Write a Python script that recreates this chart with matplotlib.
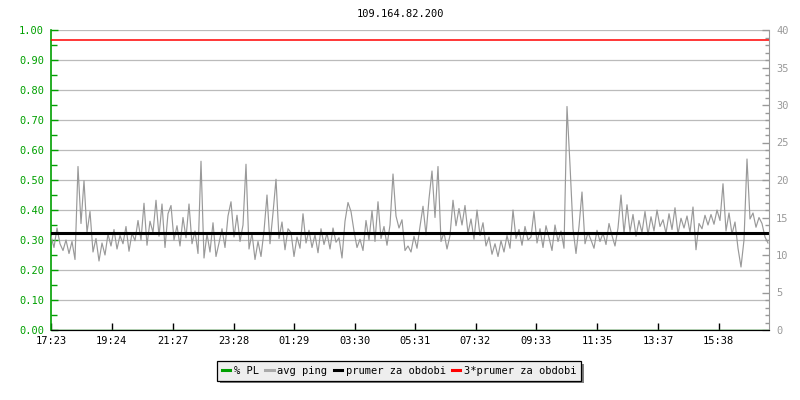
import numpy as np
import matplotlib
matplotlib.use("Agg")
import matplotlib.pyplot as plt
from matplotlib.lines import Line2D

plt.rcParams["font.family"] = ["DejaVu Sans Mono"]
plt.rcParams["font.size"] = 7.5

title = "109.164.82.200"
start_time = "17:23"
sample_minutes = 6

# avg ping [ms], one value every 6 minutes
avg_ping = [
    12.5, 11.0, 13.6, 11.5, 10.6, 12.0, 10.2, 11.8, 9.4, 21.8, 14.2, 19.9, 13.0, 15.8, 10.4, 12.2, 9.2, 11.6, 10.0, 12.8,
    11.2, 13.4, 10.8, 12.6, 11.5, 13.8, 10.5, 12.9, 11.9, 14.6, 12.0, 16.9, 11.3, 14.5, 13.0, 17.3, 12.5, 16.8, 11.0, 15.5,
    16.6, 12.0, 13.9, 11.2, 15.0, 12.3, 16.8, 11.5, 13.2, 10.2, 22.5, 9.6, 12.8, 10.4, 14.3, 9.8, 11.6, 13.5, 11.0, 15.2,
    17.1, 12.4, 15.3, 11.8, 14.0, 22.1, 10.8, 12.9, 9.4, 11.8, 9.8, 13.2, 18.0, 11.5, 15.6, 20.1, 12.2, 14.4, 10.7, 13.5,
    13.0, 9.8, 12.4, 10.9, 15.5, 11.6, 13.3, 11.0, 12.7, 10.3, 13.5, 11.4, 12.9, 10.8, 13.6, 11.7, 12.3, 9.6, 14.5, 17.0,
    15.8, 13.2, 11.0, 12.1, 10.6, 14.6, 12.0, 15.9, 11.8, 17.1, 12.2, 13.8, 11.3, 14.0, 20.8, 15.2, 13.6, 14.7, 10.6, 11.2,
    10.4, 12.5, 10.9, 13.8, 16.5, 12.7, 17.5, 21.2, 15.0, 21.8, 11.8, 13.0, 10.8, 12.6, 17.3, 13.9, 16.2, 14.0, 16.6, 12.9,
    14.8, 12.1, 16.0, 12.6, 14.3, 11.2, 12.4, 10.1, 11.5, 9.8, 11.9, 10.4, 12.6, 10.9, 16.0, 12.2, 13.4, 11.3, 13.8, 12.0,
    12.4, 15.8, 11.6, 13.5, 11.0, 13.9, 12.3, 10.6, 14.0, 11.8, 13.2, 10.9, 29.8, 22.0, 13.5, 10.2, 13.8, 18.4, 11.5, 13.0,
    12.0, 10.9, 13.3, 11.8, 12.9, 11.4, 14.2, 12.6, 11.2, 13.6, 18.0, 12.9, 16.7, 13.1, 15.4, 12.5, 14.6, 13.0, 15.8, 12.7,
    15.1, 13.2, 16.0, 13.8, 14.7, 12.9, 15.5, 13.4, 16.3, 12.8, 14.9, 13.6, 15.2, 13.0, 16.4, 10.7, 14.2, 13.5, 15.3, 14.0,
    15.4, 14.1, 16.0, 14.6, 19.5, 13.2, 15.6, 12.8, 14.4, 10.9, 8.4, 12.0, 22.8, 14.8, 15.6, 13.7, 15.0, 14.2, 12.4, 11.6,
]
packet_loss = [0.0] * len(avg_ping)
avg_mean = 12.87  # prumer za obdobi [ms]

tick_labels = ["17:23", "19:24", "21:27", "23:28", "01:29", "03:30",
               "05:31", "07:32", "09:33", "11:35", "13:37", "15:38"]
span_minutes = 1436


def minutes_since(label, start):
    h, m = map(int, label.split(":"))
    h0, m0 = map(int, start.split(":"))
    return ((h * 60 + m) - (h0 * 60 + m0)) % 1440


x = np.arange(len(avg_ping)) * sample_minutes
tick_pos = [minutes_since(t, start_time) for t in tick_labels]

green = "#00a000"
gray = "#999999"

fig = plt.figure(figsize=(8, 4), dpi=100)
ax = fig.add_axes([51 / 800, 70 / 400, 718 / 800, 300 / 400])
ax2 = ax.twinx()

# left axis: % PL
ax.plot(x, packet_loss, color=green, lw=1, zorder=1)
ax.set_ylim(0, 1)
ax.set_xlim(0, span_minutes)
ax.set_yticks(np.arange(0, 1.01, 0.1))
ax.set_yticks(np.arange(0, 1.01, 0.05), minor=True)
ax.set_yticklabels([f"{v:.2f}" for v in np.arange(0, 1.01, 0.1)])
ax.yaxis.grid(True, color="#bbbbbb", lw=0.9)
ax.set_axisbelow(True)
ax.tick_params(axis="y", which="both", direction="in", colors=green,
               labelcolor=green, pad=5)
ax.tick_params(axis="y", which="major", length=5, width=1)
ax.tick_params(axis="y", which="minor", length=4, width=1)
ax.set_xticks(tick_pos)
ax.set_xticklabels(tick_labels)
ax.tick_params(axis="x", direction="in", length=5, width=1, color="black", pad=4)
ax.spines["left"].set_color(green)
ax.spines["left"].set_linewidth(1.2)
ax.spines["top"].set_visible(False)
ax.spines["right"].set_visible(False)
ax.spines["bottom"].set_color("black")

# right axis: avg ping
ax2.plot(x, avg_ping, color=gray, lw=0.85)
ax2.axhline(avg_mean, color="black", lw=2.2)
ax2.axhline(3 * avg_mean, color="red", lw=1.1)
ax2.set_ylim(0, 40)
ax2.set_yticks(np.arange(0, 41, 5))
ax2.set_yticks(np.arange(0, 41, 1), minor=True)
ax2.tick_params(axis="y", which="both", direction="in", colors=gray,
                labelcolor=gray, pad=5)
ax2.tick_params(axis="y", which="major", length=5, width=1)
ax2.tick_params(axis="y", which="minor", length=3, width=1)
ax2.spines["right"].set_color(gray)
ax2.spines["top"].set_visible(False)
ax2.spines["left"].set_visible(False)
ax2.spines["bottom"].set_color("black")

fig.text(0.5, 1 - 14 / 400, title, ha="center", va="center", color="black")

handles = [
    Line2D([], [], color=green, lw=2.2),
    Line2D([], [], color="#aaaaaa", lw=2.2),
    Line2D([], [], color="black", lw=2.2),
    Line2D([], [], color="red", lw=2.2),
]
labels = ["% PL", "avg ping", "prumer za obdobi", "3*prumer za obdobi"]
leg = fig.legend(handles, labels, loc="center", bbox_to_anchor=(0.499, 1 - 371 / 400),
                 ncol=4, frameon=True, fancybox=False,
                 shadow={"facecolor": "#808080", "edgecolor": "none", "alpha": 1.0},
                 handlelength=0.8, handletextpad=0.35, columnspacing=0.6,
                 borderpad=0.45, borderaxespad=0)
leg.get_frame().set_facecolor("#eeeeee")
leg.get_frame().set_edgecolor("black")
leg.get_frame().set_linewidth(0.9)

fig.savefig("out.png", dpi=100)
